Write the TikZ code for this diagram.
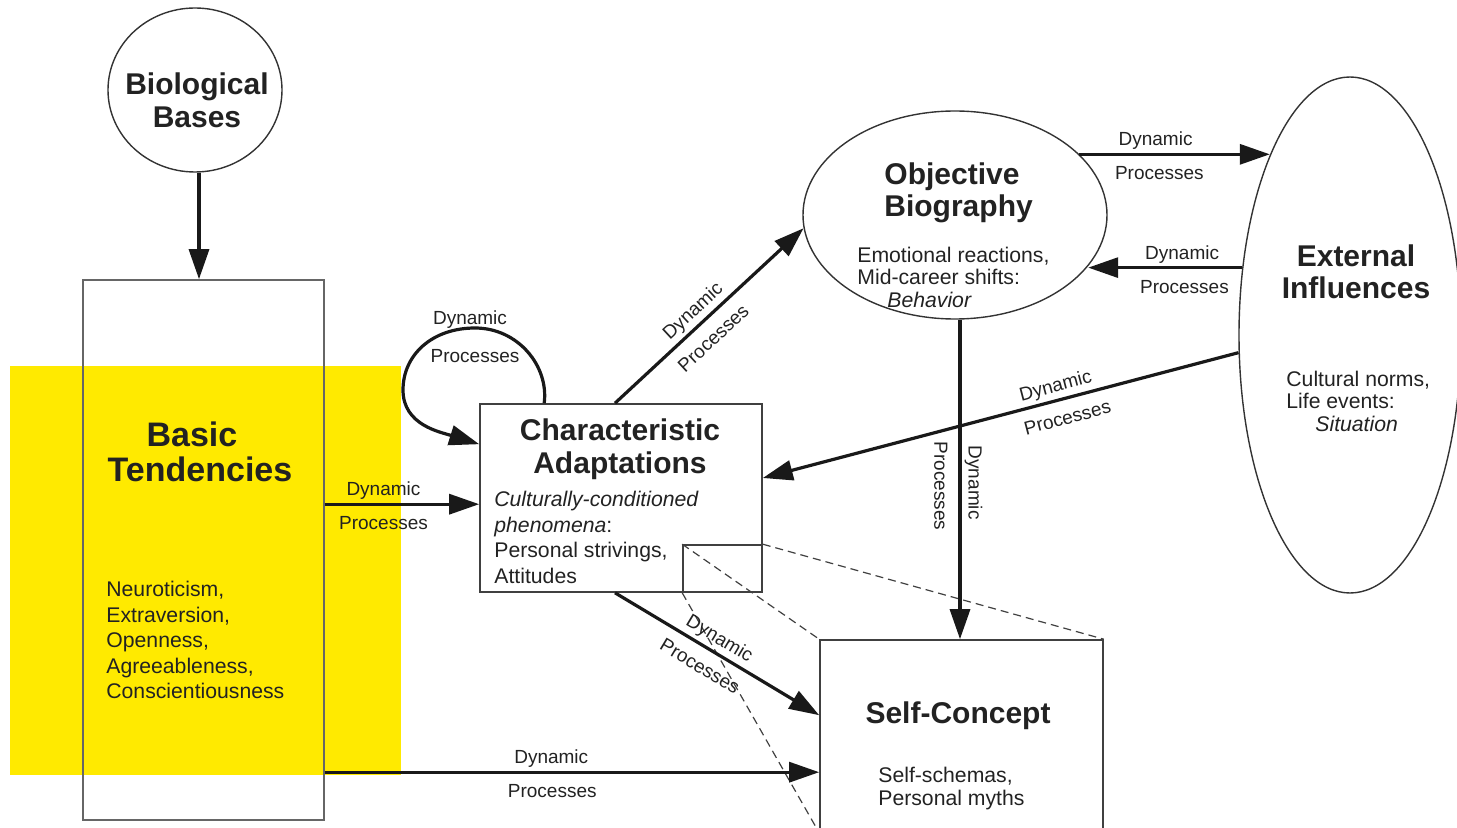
\documentclass[tikz,border=0pt]{standalone}
\usepackage{fontspec}
\setmainfont{Liberation Sans}
\usetikzlibrary{arrows.meta,calc,shapes.geometric}
\definecolor{hl}{RGB}{255,234,0}
\definecolor{ink}{RGB}{34,34,34}
\begin{document}
\begin{tikzpicture}[x=0.5pt,y=-0.5pt,
  every node/.style={text=ink},
  boxnode/.style={draw=black!75, line width=0.8pt, rectangle, inner sep=0pt},
  ovalnode/.style={draw=black!80, line width=0.7pt, ellipse, inner sep=0pt},
  conn/.style={draw=black!90, line width=1.6pt, -{Triangle[length=15pt,width=10pt]}},
  dashline/.style={draw=black!75, line width=0.6pt, dash pattern=on 4pt off 2.5pt},
  ttl/.style={font=\bfseries\fontsize{15}{16.5}\selectfont, align=center, inner sep=0pt},
  body/.style={font=\fontsize{10.6}{12.75}\selectfont, align=left, inner sep=0pt, anchor=west},
  lblfont/.style={font=\fontsize{9.5}{10}\selectfont},
  dyn/.style={lblfont, sloped, above, inner sep=1.5pt},
  proc/.style={lblfont, sloped, below, inner xsep=1.5pt, inner ysep=5.5pt},
]
\useasboundingbox (0,0) rectangle (1457,828);
\clip (0,0) rectangle (1457,828);

% highlight
\fill[hl] (10,366) rectangle (401,775);

% shapes
\node[ovalnode, minimum width=87pt, minimum height=82pt] (bb) at (195,90) {};
\node[boxnode, draw=black!60, minimum width=120.5pt, minimum height=270pt] (bt) at (203.5,550) {};
\node[boxnode, minimum width=141pt, minimum height=94pt] (ca) at (621,498) {};
\node[boxnode, minimum width=39.5pt, minimum height=23.5pt] (sr) at (722.5,568.5) {};
\node[boxnode, minimum width=141.5pt, minimum height=96pt] (sc) at (961.5,736) {};
\node[ovalnode, minimum width=152pt, minimum height=104pt] (ob) at (955,215) {};
\node[ovalnode, minimum width=111pt, minimum height=258pt] (ei) at (1350,335) {};

% texts
\node[ttl] (bbt) at (197,100) {Biological\\Bases};
\node[ttl, font=\bfseries\fontsize{17}{17.5}\selectfont] (btt) at (200,452) {Basic\hspace*{8pt}\\Tendencies};
\node[body] (btl) at (106,640) {Neuroticism,\\Extraversion,\\Openness,\\Agreeableness,\\Conscientiousness};
\node[ttl] (cat) at (620,449.5) {Characteristic\\Adaptations};
\node[body] (cal) at (494,537.5) {\textit{Culturally-conditioned}\\\textit{phenomena}:\\Personal strivings,\\Attitudes};
\node[ttl, align=left, anchor=west, font=\bfseries\fontsize{15}{16}\selectfont] (obt) at (884,193) {Objective\\Biography};
\node[body, font=\fontsize{10.6}{11.25}\selectfont] (obl) at (857,277) {Emotional reactions,\\Mid-career shifts:\\\hspace*{15pt}\textit{Behavior}};
\node[ttl, font=\bfseries\fontsize{15}{16}\selectfont] (eit) at (1356,272) {External\\Influences};
\node[body, font=\fontsize{10.6}{11.25}\selectfont] (eil) at (1286,401) {Cultural norms,\\Life events:\\\hspace*{14.5pt}\textit{Situation}};
\node[ttl] (sct) at (958,716) {Self-Concept};
\node[body, font=\fontsize{10.6}{11.5}\selectfont] (scl) at (878,789) {Self-schemas,\\Personal myths};

% dashed zoom lines
\draw[dashline] (sr.north west) -- (sc.north west);
\draw[dashline] (sr.south west) -- (sc.south west);
\draw[dashline] (sr.north east) -- (sc.north east);

% connector anchor points
\coordinate (bbs) at ($(bb.south)+(4,0)$);
\coordinate (bt2) at ($(bt.north east)+(0,225)$);
\coordinate (bt3) at ($(bt.north east)+(0,493)$);
\coordinate (obs) at ($(ob.south)+(5,0)$);
\coordinate (loopS) at ($(ca.north west)+(65,0)$);
\coordinate (loopT) at (475,328);
\coordinate (loopL) at (403,390);
\coordinate (loopE) at ($(ca.north west)+(0,41)$);

% connectors
\draw[conn] (bbs) -- (bbs |- bt.north);
\draw[conn] (bt2) -- node[dyn, pos=0.38] {Dynamic} node[proc, pos=0.38] {Processes} (bt2 -| ca.west);
\draw[conn] (bt3) -- node[dyn, pos=0.458] {Dynamic} node[proc, pos=0.46] {Processes} (bt3 -| sc.west);
\draw[conn] (loopS) .. controls (549,366) and (518,328) .. (loopT)
   .. controls (432,328) and (403,355) .. (loopL)
   .. controls (403,425) and (440,432) .. (loopE);
\node[lblfont, inner sep=0pt] (lpd) at (470,320) {Dynamic};
\node[lblfont, inner sep=0pt] (lpp) at (475,356) {Processes};
\draw[conn] ($(ca.north)+(-6,0)$) -- node[dyn, pos=0.465] {Dynamic} node[proc, pos=0.452] {Processes} (ob.185);
\draw[conn] (ob.26) -- node[dyn, pos=0.40] {Dynamic} node[proc, pos=0.42] {Processes} (ei.114 |- ob.26);
\draw[conn] (ei.148) -- node[dyn, pos=0.39] {Dynamic} node[proc, pos=0.375] {Processes} (ob.-21 |- ei.148);
\draw[conn] (ei.189) -- node[dyn, pos=0.377] {Dynamic} node[proc, pos=0.37] {Processes} ($(ca.east)+(0,-20)$);
\draw[conn] (obs) -- node[lblfont, pos=0.51, rotate=-90, above, inner sep=1.5pt] {Dynamic}
   node[lblfont, pos=0.52, rotate=-90, below, inner xsep=1.5pt, inner ysep=5.5pt] {Processes} (obs |- sc.north);
\draw[conn] ($(ca.south)+(-6,0)$) -- node[dyn, pos=0.476] {Dynamic} node[proc, pos=0.465] {Processes} ($(sc.north west)+(0,76)$);
\end{tikzpicture}
\end{document}
